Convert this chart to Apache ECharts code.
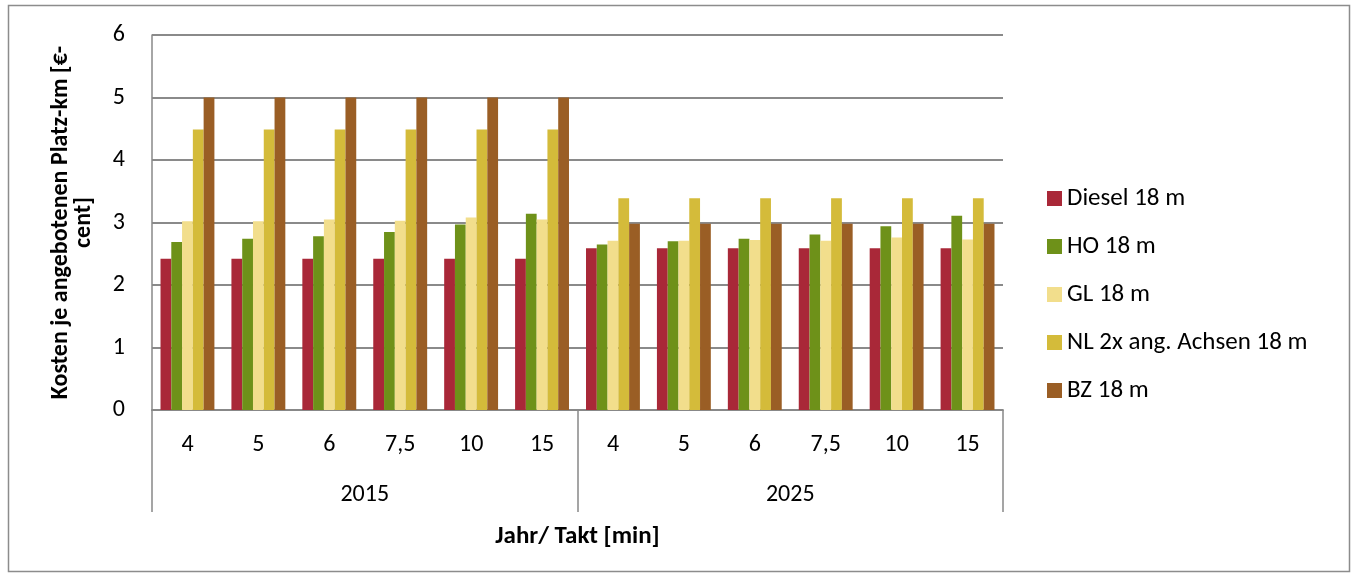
<!DOCTYPE html>
<html>
<head>
<meta charset="utf-8">
<script src="https://cdn.jsdelivr.net/npm/echarts@6/dist/echarts.min.js"></script>
<style>
  html, body { margin: 0; padding: 0; background: #fff; }
  #chart { width: 1357px; height: 579px; }
</style>
</head>
<body>
<div id="chart"></div>
<script>
// Takt categories within each year group
const takt = ['4', '5', '6', '7,5', '10', '15', '4', '5', '6', '7,5', '10', '15'];
const years = ['2015', '2025'];

// Costs per offered seat-km [€-cent]
const diesel = [2.42, 2.42, 2.42, 2.42, 2.42, 2.42, 2.59, 2.59, 2.59, 2.59, 2.59, 2.59];
const ho     = [2.69, 2.74, 2.78, 2.85, 2.97, 3.14, 2.65, 2.70, 2.74, 2.81, 2.94, 3.11];
const gl     = [3.02, 3.02, 3.05, 3.03, 3.08, 3.05, 2.71, 2.71, 2.72, 2.71, 2.76, 2.73];
const nl     = [4.49, 4.49, 4.49, 4.49, 4.49, 4.49, 3.39, 3.39, 3.39, 3.39, 3.39, 3.39];
const bz     = [5.0, 5.0, 5.0, 5.0, 5.0, 5.0, 2.98, 2.98, 2.98, 2.98, 2.98, 2.98];

const seriesNames = ['Diesel 18 m', 'HO 18 m', 'GL 18 m', 'NL 2x ang. Achsen 18 m', 'BZ 18 m'];
const seriesData = [diesel, ho, gl, nl, bz];
const colors = ['#A92838', '#6E9119', '#F2DE8C', '#D4BB3A', '#9A5E25'];

const font = 'Calibri, Carlito, "Noto Sans", sans-serif';
const chart = echarts.init(document.getElementById('chart'));

chart.setOption({
  animation: false,
  textStyle: { fontFamily: font, color: '#000' },
  color: colors,
  grid: { left: 152, right: 354, top: 35, bottom: 169 },
  legend: {
    orient: 'vertical',
    left: 1042,
    top: 181,
    padding: 5,
    itemWidth: 15,
    itemHeight: 15,
    itemGap: 23,
    icon: 'rect',
    textStyle: { fontSize: 25, fontFamily: font, color: '#000' },
    data: seriesNames
  },
  xAxis: [
    {
      type: 'category',
      data: takt,
      axisLine: { lineStyle: { color: '#888', width: 1.5 } },
      axisTick: { show: false },
      axisLabel: { fontSize: 24, margin: 23, color: '#000', interval: 0 }
    },
    {
      type: 'category',
      data: years,
      position: 'bottom',
      axisLine: { lineStyle: { color: '#888', width: 1.5 } },
      axisTick: { show: true, length: 102, lineStyle: { color: '#888', width: 1.5 } },
      axisLabel: { fontSize: 24, margin: 73, color: '#000' },
      name: 'Jahr/ Takt [min]',
      nameLocation: 'middle',
      nameGap: 114,
      nameTextStyle: { fontSize: 25, fontWeight: 'bold', color: '#000' }
    }
  ],
  yAxis: {
    type: 'value',
    min: 0,
    max: 6,
    interval: 1,
    axisLine: { show: true, lineStyle: { color: '#888', width: 1.5 } },
    axisTick: { show: false },
    axisLabel: { fontSize: 24, margin: 27, color: '#000' },
    splitLine: { lineStyle: { color: '#8a8a8a', width: 2 } },
    name: 'Kosten je angebotenen Platz-km [€-\ncent]',
    nameLocation: 'middle',
    nameRotate: 90,
    nameGap: 57,
    nameTextStyle: { fontSize: 24, fontWeight: 'bold', color: '#000', align: 'center', lineHeight: 23 }
  },
  graphic: [
    {
      type: 'rect',
      shape: { x: 8.5, y: 5.5, width: 1341, height: 566 },
      style: { fill: 'none', stroke: '#8c8c8c', lineWidth: 1.5 },
      silent: true,
      z: -1
    }
  ],
  series: seriesNames.map((name, i) => ({
    name: name,
    type: 'bar',
    xAxisIndex: 0,
    data: seriesData[i],
    barGap: '0%',
    barCategoryGap: '24%',
    itemStyle: { color: colors[i] }
  }))
});
</script>
</body>
</html>
